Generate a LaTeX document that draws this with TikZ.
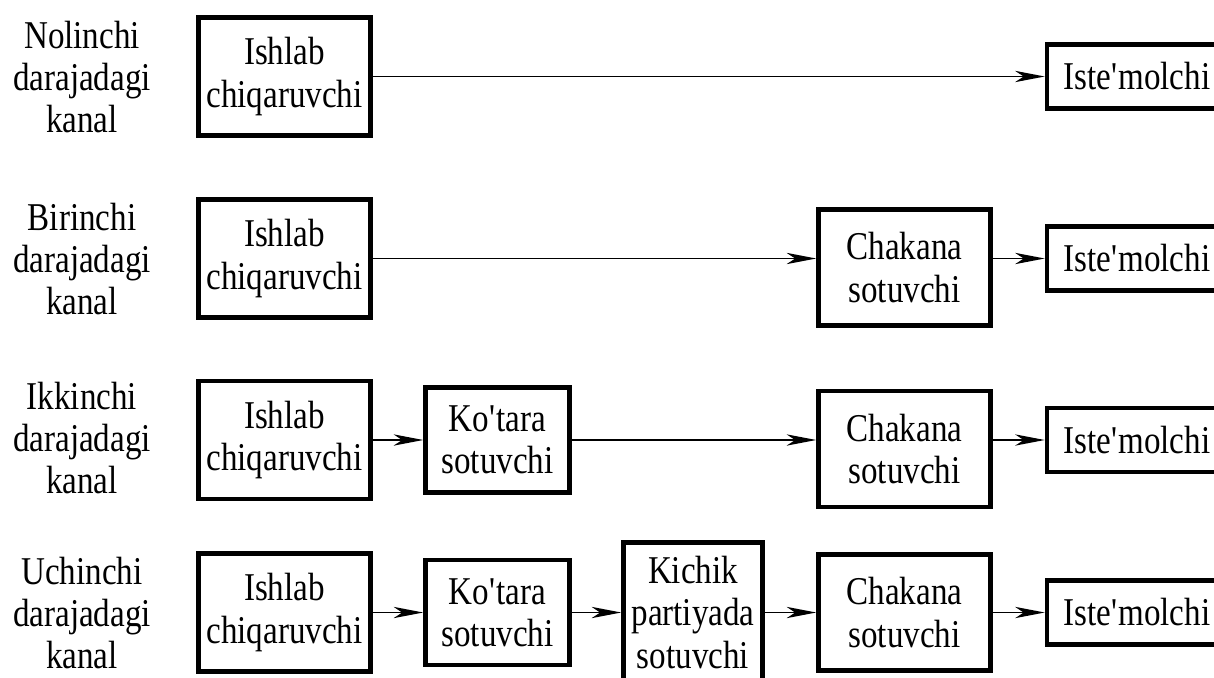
\documentclass[tikz,border=0pt]{standalone}
\usepackage{fontspec}
\setmainfont{Liberation Serif}[FakeStretch=0.84]
\usetikzlibrary{arrows.meta}
\tikzset{
  box/.style={draw, line width=3.2pt, align=center, inner sep=0pt},
  prod/.style={box, minimum width=4.3cm, minimum height=2.95cm},
  whole/.style={box, minimum width=3.6cm, minimum height=2.625cm},
  small/.style={box, minimum width=3.475cm, minimum height=3.5cm},
  retail/.style={box, minimum width=4.3cm, minimum height=2.9cm},
  cons/.style={box, minimum width=4.5cm, minimum height=1.6cm},
  lab/.style={align=center, inner sep=0pt},
  arr/.style={line width=1.2pt, -{Stealth[length=21pt, width=8pt, inset=6pt]}}
}
\newcommand{\apos}{\textquotesingle}
\begin{document}
\begin{tikzpicture}[x=0.025cm, y=-0.025cm, font=\fontsize{28}{30}\selectfont]
\useasboundingbox (0,0) rectangle (1214,677);
% row labels
\node[lab] (l1) at (82,77) {Nolinchi\\darajadagi\\kanal};
\node[lab] (l2) at (82,259) {Birinchi\\darajadagi\\kanal};
\node[lab] (l3) at (82,438) {Ikkinchi\\darajadagi\\kanal};
\node[lab] (l4) at (82,613) {Uchinchi\\darajadagi\\kanal};
% zero level
\node[prod] (p1) at (284.5,76.5) {Ishlab\\chiqaruvchi};
\node[cons] (e1) at (1137,76.5) {Iste\apos molchi};
\draw[arr] (p1) -- (e1);
% first level
\node[prod] (p2) at (284.5,258.5) {Ishlab\\chiqaruvchi};
\node[retail] (c2) at (904.5,267.5) {Chakana\\sotuvchi};
\node[cons] (e2) at (1137,258.5) {Iste\apos molchi};
\draw[arr] (p2.east) -- (p2.east -| c2.west);
\draw[arr] (e2.west -| c2.east) -- (e2.west);
% second level
\node[prod] (p3) at (284.5,440) {Ishlab\\chiqaruvchi};
\node[whole] (k3) at (497.5,440) {Ko\apos tara\\sotuvchi};
\node[retail] (c3) at (904.5,449) {Chakana\\sotuvchi};
\node[cons] (e3) at (1137,440) {Iste\apos molchi};
\draw[arr] (p3) -- (k3);
\draw[arr] (k3.east) -- (k3.east -| c3.west);
\draw[arr] (e3.west -| c3.east) -- (e3.west);
% third level
\node[prod] (p4) at (284.5,612.5) {Ishlab\\chiqaruvchi};
\node[whole] (k4) at (497.5,612.5) {Ko\apos tara\\sotuvchi};
\node[small] (m4) at (693,612.5) {Kichik\\partiyada\\sotuvchi};
\node[retail] (c4) at (904.5,612.5) {Chakana\\sotuvchi};
\node[cons] (e4) at (1137,612.5) {Iste\apos molchi};
\draw[arr] (p4) -- (k4);
\draw[arr] (k4) -- (m4);
\draw[arr] (m4) -- (c4);
\draw[arr] (c4) -- (e4);
\end{tikzpicture}
\end{document}
